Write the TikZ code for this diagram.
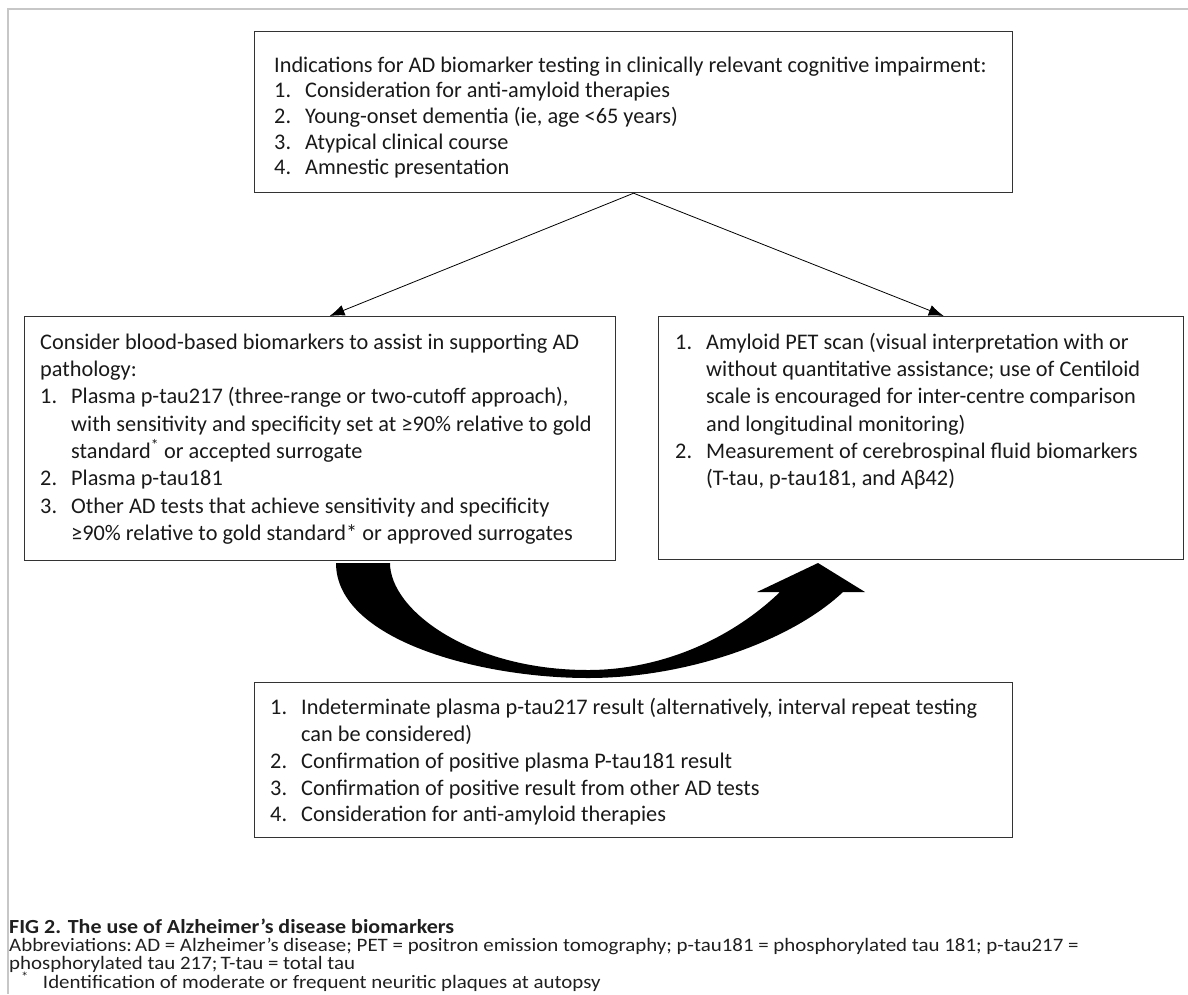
\documentclass[tikz,border=0pt]{standalone}
\usepackage{fontspec}
\setmainfont{Carlito}
\newfontfamily\capfont[FakeStretch=1.1]{Carlito}
\usetikzlibrary{arrows.meta,calc}
\newlength{\numw}\setlength{\numw}{31pt}
\newcommand{\li}[2]{\makebox[\numw][l]{#1}#2}
\newcommand{\cont}{\hspace*{\numw}}
\begin{document}
\begin{tikzpicture}[x=1pt,y=1pt,
  box/.style={draw=black!80, line width=1.2pt, rectangle, inner sep=0pt, anchor=north west},
  txt/.style={anchor=north west, inner sep=0pt, align=left, text=black!90, font=\fontsize{22.3}{27.3}\selectfont},
  conn/.style={-{Latex[length=15pt,width=11pt]}, line width=0.8pt},
  captxt/.style={anchor=base west, inner sep=0pt, text=black!88, font=\capfont\fontsize{19}{18.5}\selectfont},
]
\useasboundingbox (0,0) rectangle (1188,-994);
\draw[black!22, line width=1.5pt] (1188,-9) -- (8,-9) -- (8,-994);

% boxes
\node[box, minimum width=758pt, minimum height=161pt] (top) at (254,-31) {};
\node[box, minimum width=591pt, minimum height=244pt] (left) at (24,-316) {};
\node[box, minimum width=525pt, minimum height=243pt] (right) at (658,-316) {};
\node[box, minimum width=758pt, minimum height=155pt] (bot) at (254,-682) {};

% texts
\node[txt, font=\fontsize{22.3}{25.7}\selectfont] (toptxt) at (274,-54) {\strut Indications for AD biomarker testing in clinically relevant cognitive impairment:\\
\li{1.}{Consideration for anti-amyloid therapies}\\
\li{2.}{Young-onset dementia (ie, age <65 years)}\\
\li{3.}{Atypical clinical course}\\
\li{4.}{Amnestic presentation}};

\node[txt] (lefttxt) at (40,-330) {\strut Consider blood-based biomarkers to assist in supporting AD\\
pathology:\\
\li{1.}{Plasma p-tau217 (three-range or two-cutoff approach),}\\
\cont with sensitivity and specificity set at ≥90\% relative to gold\\
\cont standard\textsuperscript{*} or accepted surrogate\\
\li{2.}{Plasma p-tau181}\\
\li{3.}{Other AD tests that achieve sensitivity and specificity}\\
\cont ≥90\% relative to gold standard* or approved surrogates};

\node[txt] (righttxt) at (675,-330) {\strut\li{1.}{Amyloid PET scan (visual interpretation with or}\\
\cont without quantitative assistance; use of Centiloid\\
\cont scale is encouraged for inter-centre comparison\\
\cont and longitudinal monitoring)\\
\li{2.}{Measurement of cerebrospinal fluid biomarkers}\\
\cont (T-tau, p-tau181, and Aβ42)};

\node[txt, font=\fontsize{22.3}{26.7}\selectfont] (bottxt) at (270,-696) {\strut\li{1.}{Indeterminate plasma p-tau217 result (alternatively, interval repeat testing}\\
\cont can be considered)\\
\li{2.}{Confirmation of positive plasma P-tau181 result}\\
\li{3.}{Confirmation of positive result from other AD tests}\\
\li{4.}{Consideration for anti-amyloid therapies}};

% connectors
\coordinate (lt) at ($(left.north west)!0.516!(left.north east)$);
\coordinate (rt) at ($(right.north west)!0.543!(right.north east)$);
\draw[conn] (top.south) -- (lt);
\draw[conn] (top.south) -- (rt);

% curved block arrow
\fill[black] (336,-563) .. controls (336,-640) and (480,-678) .. (588,-678)
  .. controls (685,-678) and (790,-642) .. (843,-592)
  -- (865,-592) -- (818,-563) -- (757,-592) -- (780,-592)
  .. controls (730,-640) and (660,-670) .. (588,-670)
  .. controls (470,-670) and (390,-610) .. (390,-563) -- cycle;

% caption
\node[captxt, font=\capfont\fontsize{20}{18.5}\selectfont\bfseries] (fig) at (9,-933) {FIG 2. The use of Alzheimer’s disease biomarkers};
\node[captxt] (abbr1) at (9,-951) {Abbreviations:\thinspace AD = Alzheimer’s disease; PET = positron emission tomography; p-tau181 = phosphorylated tau 181; p-tau217 =};
\node[captxt] (abbr2) at (9,-969) {phosphorylated tau 217;\thinspace T-tau = total tau};
\node[captxt] (foot) at (21,-988) {\textsuperscript{*}\hspace{14pt}Identification of moderate or frequent neuritic plaques at autopsy};
\end{tikzpicture}
\end{document}
